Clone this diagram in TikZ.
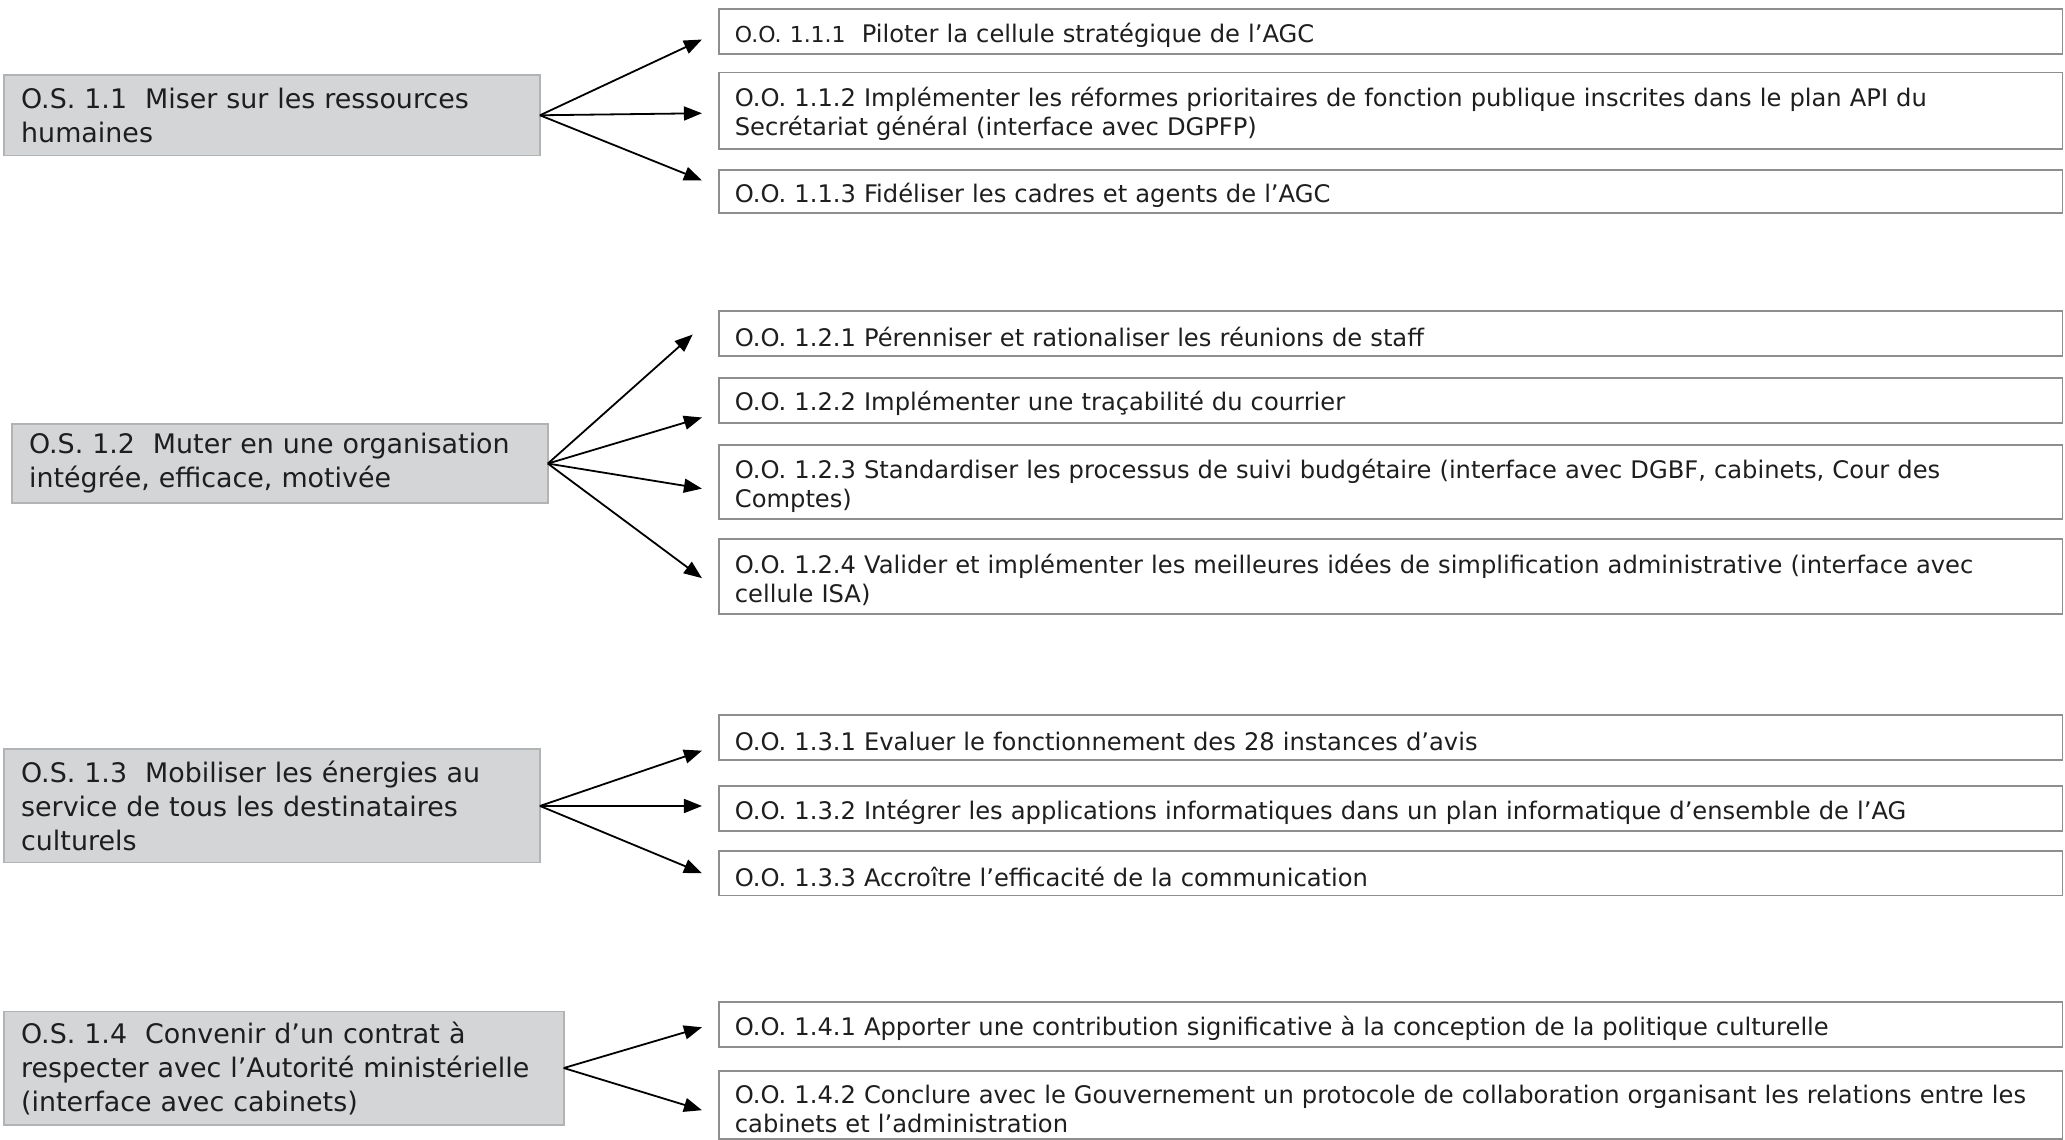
\documentclass[tikz,border=0pt]{standalone}
\usepackage{fontspec}
\setmainfont{DejaVu Sans}
\usetikzlibrary{arrows.meta}
\definecolor{txt}{HTML}{1E1E1E}
\definecolor{osfill}{HTML}{D4D5D7}
\definecolor{osline}{HTML}{B2B3B5}
\definecolor{ooline}{HTML}{8E8E8E}
\tikzset{
  osbox/.style={draw=osline, fill=osfill, line width=0.9pt, anchor=north west,
    inner xsep=8.6pt, inner ysep=0pt, outer sep=0pt, align=left, text=txt,
    font=\fontsize{13.45}{17}\selectfont},
  oobox/.style={draw=ooline, fill=white, line width=0.9pt, anchor=north west,
    inner xsep=7.9pt, inner ysep=0pt, outer sep=0pt, align=left, text=txt,
    text width=655.9pt, minimum width=671.7pt,
    execute at begin node={\rule{0pt}{13pt}},
    font=\fontsize{12.1}{14.5}\selectfont},
  arr/.style={draw=black, line width=0.9pt, -{Triangle[length=9pt,width=7pt]}}
}
\begin{document}
\begin{tikzpicture}[x=0.6585pt, y=-0.6585pt]
\useasboundingbox (0,0) rectangle (1568,865);

% O.S. boxes
\node[osbox, text width=250.8pt, minimum height=40.2pt] (os11) at (3,57)
  {O.S. 1.1\ \ Miser sur les ressources\\humaines};
\node[osbox, text width=250.8pt, minimum height=39.5pt] (os12) at (9,322)
  {O.S. 1.2\ \ Muter en une organisation\\intégrée, efficace, motivée};
\node[osbox, text width=250.8pt, minimum height=56.6pt] (os13) at (3,569)
  {O.S. 1.3\ \ Mobiliser les énergies au\\service de tous les destinataires\\culturels};
\node[osbox, text width=262.7pt, minimum height=56.6pt] (os14) at (3,768)
  {O.S. 1.4\ \ Convenir d’un contrat à\\respecter avec l’Autorité ministérielle\\(interface avec cabinets)};

% O.O. boxes
\node[oobox, minimum height=22.4pt] (oo111) at (546,7)
  {{\fontsize{11}{12}\selectfont O.O. 1.1.1}\ \ Piloter la cellule stratégique de l’AGC};
\node[oobox, minimum height=38.2pt] (oo112) at (546,55)
  {O.O. 1.1.2 Implémenter les réformes prioritaires de fonction publique inscrites dans le plan API du\\Secrétariat général (interface avec DGPFP)};
\node[oobox, minimum height=21.7pt] (oo113) at (546,129)
  {O.O. 1.1.3 Fidéliser les cadres et agents de l’AGC};

\node[oobox, minimum height=22.4pt] (oo121) at (546,236)
  {O.O. 1.2.1 Pérenniser et rationaliser les réunions de staff};
\node[oobox, minimum height=22.4pt] (oo122) at (546,287)
  {O.O. 1.2.2 Implémenter une traçabilité du courrier};
\node[oobox, minimum height=36.9pt] (oo123) at (546,338)
  {O.O. 1.2.3 Standardiser les processus de suivi budgétaire (interface avec DGBF, cabinets, Cour des\\Comptes)};
\node[oobox, minimum height=37.5pt] (oo124) at (546,409)
  {O.O. 1.2.4 Valider et implémenter les meilleures idées de simplification administrative (interface avec\\cellule ISA)};

\node[oobox, minimum height=22.4pt] (oo131) at (546,543)
  {O.O. 1.3.1 Evaluer le fonctionnement des 28 instances d’avis};
\node[oobox, minimum height=22.4pt] (oo132) at (546,597)
  {O.O. 1.3.2 Intégrer les applications informatiques dans un plan informatique d’ensemble de l’AG};
\node[oobox, minimum height=22.4pt] (oo133) at (546,646)
  {O.O. 1.3.3 Accroître l’efficacité de la communication};

\node[oobox, minimum height=22.4pt] (oo141) at (546,761)
  {O.O. 1.4.1 Apporter une contribution significative à la conception de la politique culturelle};
\node[oobox, minimum height=34.2pt] (oo142) at (546,813)
  {O.O. 1.4.2 Conclure avec le Gouvernement un protocole de collaboration organisant les relations entre les\\cabinets et l’administration};

% arrow tips
\coordinate (t111) at (533,30);
\coordinate (t112) at (533,86);
\coordinate (t113) at (533,137);
\coordinate (t121) at (526,254);
\coordinate (t122) at (533,317);
\coordinate (t123) at (533,371);
\coordinate (t124) at (533,439);
\coordinate (t131) at (533,570);
\coordinate (t132) at (533,612);
\coordinate (t133) at (533,663);
\coordinate (t141) at (533,780);
\coordinate (t142) at (533,843);

\draw[arr] (os11.east) -- (t111);
\draw[arr] (os11.east) -- (t112);
\draw[arr] (os11.east) -- (t113);
\draw[arr] (os12.east) -- (t121);
\draw[arr] (os12.east) -- (t122);
\draw[arr] (os12.east) -- (t123);
\draw[arr] (os12.east) -- (t124);
\draw[arr] (os13.east) -- (t131);
\draw[arr] (os13.east) -- (t132);
\draw[arr] (os13.east) -- (t133);
\draw[arr] (os14.east) -- (t141);
\draw[arr] (os14.east) -- (t142);
\end{tikzpicture}
\end{document}
